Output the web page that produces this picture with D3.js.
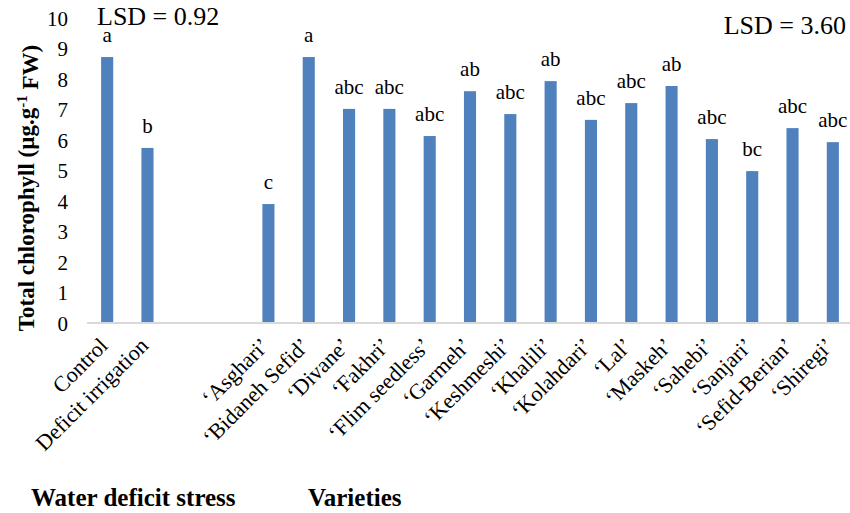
<!DOCTYPE html>
<html>
<head>
<meta charset="utf-8">
<script src="https://cdn.jsdelivr.net/npm/d3@7"></script>
<style>
  body { margin: 0; background: #fff; }
</style>
</head>
<body>
<div id="chart"></div>
<script>
// Categories (two empty slots separate the groups)
const categories = ['Control', 'Deficit irrigation', '', ' ',
  '\u2018Asghari\u2019', '\u2018Bidaneh Sefid\u2019', '\u2018Divane\u2019', '\u2018Fakhri\u2019',
  '\u2018Flim seedless\u2019', '\u2018Garmeh\u2019', '\u2018Keshmeshi\u2019', '\u2018Khalili\u2019',
  '\u2018Kolahdari\u2019', '\u2018Lal\u2019', '\u2018Maskeh\u2019', '\u2018Sahebi\u2019',
  '\u2018Sanjari\u2019', '\u2018Sefid-Berian\u2019', '\u2018Shiregi\u2019'];
const values = [8.72, 5.74, null, null,
  3.9, 8.72, 7.02, 7.02, 6.13, 7.6, 6.85, 7.93, 6.66, 7.21, 7.77, 6.03, 4.98, 6.39, 5.93];
const letters = ['a', 'b', '', '',
  'c', 'a', 'abc', 'abc', 'abc', 'ab', 'abc', 'ab', 'abc', 'abc', 'ab', 'abc', 'bc', 'abc', 'abc'];
const yTicks = [0, 1, 2, 3, 4, 5, 6, 7, 8, 9, 10];

const width = 850;
const height = 513;
const margin = { left: 87, right: 0, top: 18, bottom: 190 };
const FONT = 'Liberation Serif';

const svg = d3.select('#chart')
  .append('svg')
  .attr('width', width)
  .attr('height', height);

const x = d3.scaleBand()
  .domain(categories)
  .range([margin.left, 853])
  .paddingInner(0.7)
  .paddingOuter(0.35);

const y = d3.scaleLinear()
  .domain([0, 10])
  .range([323, margin.top]);

const barData = categories.map((c, i) => ({ c, v: values[i], l: letters[i] })).filter(d => d.v !== null);

// Bars
svg.append('g')
  .selectAll('rect')
  .data(barData)
  .enter()
  .append('rect')
  .attr('x', d => x(d.c))
  .attr('y', d => y(d.v))
  .attr('width', x.bandwidth())
  .attr('height', d => y(0) - y(d.v))
  .attr('fill', '#4f81bd');

// Significance letters
svg.append('g')
  .selectAll('text')
  .data(barData)
  .enter()
  .append('text')
  .attr('x', d => x(d.c) + x.bandwidth() / 2)
  .attr('y', d => y(d.v) - 15)
  .attr('text-anchor', 'middle')
  .attr('font-family', FONT)
  .attr('font-size', 21)
  .text(d => d.l);

// Y axis (labels only)
const yAxis = svg.append('g')
  .attr('transform', `translate(${margin.left},0)`)
  .call(d3.axisLeft(y).tickValues(yTicks).tickSize(0).tickPadding(19));
yAxis.attr('font-family', FONT).attr('font-size', 21);
yAxis.select('.domain').remove();
yAxis.selectAll('text').attr('fill', '#000').attr('dy', '0.34em');

// X axis line
svg.append('line')
  .attr('x1', margin.left).attr('x2', width)
  .attr('y1', y(0)).attr('y2', y(0))
  .attr('stroke', '#d9d9d9')
  .attr('stroke-width', 2);

// X labels rotated
svg.append('g')
  .selectAll('text')
  .data(categories.filter(c => c.trim() !== ''))
  .enter()
  .append('text')
  .attr('transform', d => `translate(${x(d) + x.bandwidth() / 2 + 2},${y(0) + 24}) rotate(-45)`)
  .attr('text-anchor', 'end')
  .attr('font-family', FONT)
  .attr('font-size', 22)
  .text(d => d);

// Y axis title
const yTitle = svg.append('text')
  .attr('transform', 'translate(34,188) rotate(-90)')
  .attr('text-anchor', 'middle')
  .attr('font-family', FONT)
  .attr('font-size', 23)
  .attr('font-weight', 'bold');
yTitle.append('tspan').text('Total chlorophyll (\u00b5g.g');
yTitle.append('tspan').attr('dy', '-0.45em').attr('font-size', 15).text('-1');
yTitle.append('tspan').attr('dy', '0.45em').text(' FW)');

// LSD annotations
svg.append('text')
  .attr('x', 97).attr('y', 25)
  .attr('font-family', FONT)
  .attr('font-size', 26)
  .text('LSD = 0.92');
svg.append('text')
  .attr('x', 846).attr('y', 34)
  .attr('text-anchor', 'end')
  .attr('font-family', FONT)
  .attr('font-size', 26)
  .text('LSD = 3.60');

// Group titles
svg.append('text')
  .attr('x', 31).attr('y', 506)
  .attr('font-family', FONT)
  .attr('font-size', 25)
  .attr('font-weight', 'bold')
  .text('Water deficit stress');
svg.append('text')
  .attr('x', 308).attr('y', 506)
  .attr('font-family', FONT)
  .attr('font-size', 25)
  .attr('font-weight', 'bold')
  .text('Varieties');
</script>
</body>
</html>
